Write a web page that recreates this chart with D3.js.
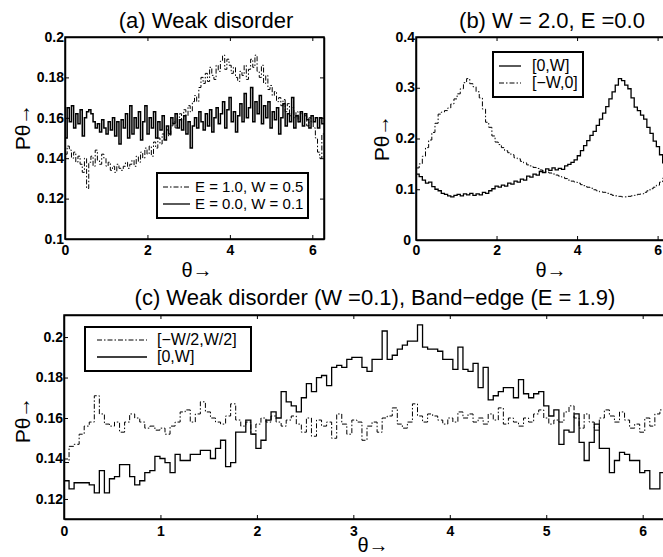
<!DOCTYPE html>
<html>
<head>
<meta charset="utf-8">
<script src="https://cdn.jsdelivr.net/npm/d3@7"></script>
<style>
  body { margin: 0; background: #fff; }
  svg { display: block; font-family: "Liberation Sans", Arial, sans-serif; }
  .tick text { font-size: 14px; font-weight: bold; fill: #000; }
</style>
</head>
<body>
<script>
const TWO_PI = 2 * Math.PI

// panel (a): 120 bins over [0, 2pi]
let aDashDot = [
  0.142, 0.146, 0.144, 0.140, 0.143, 0.138, 0.141, 0.137, 0.133, 0.140,
  0.125, 0.138, 0.141, 0.136, 0.144, 0.139, 0.137, 0.142, 0.140, 0.136,
  0.138, 0.134, 0.136, 0.133, 0.137, 0.135, 0.134, 0.136, 0.138, 0.135,
  0.137, 0.139, 0.136, 0.141, 0.138, 0.143, 0.140, 0.145, 0.142, 0.146,
  0.141, 0.148, 0.145, 0.150, 0.147, 0.152, 0.149, 0.154, 0.151, 0.156,
  0.158, 0.155, 0.160, 0.162, 0.159, 0.164, 0.161, 0.166, 0.163, 0.168,
  0.171, 0.168, 0.175, 0.180, 0.177, 0.182, 0.178, 0.185, 0.181, 0.179,
  0.186, 0.183, 0.188, 0.191, 0.184, 0.189, 0.186, 0.182, 0.185, 0.180,
  0.178, 0.183, 0.181, 0.186, 0.179, 0.184, 0.189, 0.185, 0.191, 0.183,
  0.180, 0.186, 0.177, 0.181, 0.174, 0.176, 0.171, 0.173, 0.168, 0.170,
  0.166, 0.169, 0.163, 0.167, 0.161, 0.165, 0.160, 0.163, 0.158, 0.162,
  0.159, 0.161, 0.156, 0.160, 0.158, 0.155, 0.150, 0.143, 0.140, 0.152
]
let aSolid = [
  0.150, 0.165, 0.158, 0.166, 0.155, 0.162, 0.157, 0.164, 0.151, 0.160,
  0.163, 0.164, 0.162, 0.158, 0.155, 0.157, 0.153, 0.159, 0.155, 0.152,
  0.158, 0.154, 0.160, 0.151, 0.158, 0.147, 0.159, 0.155, 0.162, 0.150,
  0.166, 0.152, 0.160, 0.155, 0.163, 0.149, 0.158, 0.166, 0.152, 0.160,
  0.155, 0.163, 0.150, 0.158, 0.154, 0.161, 0.149, 0.156, 0.152, 0.160,
  0.157, 0.162, 0.155, 0.159, 0.154, 0.161, 0.152, 0.158, 0.145, 0.156,
  0.160, 0.155, 0.163, 0.158, 0.154, 0.162, 0.156, 0.164, 0.153, 0.160,
  0.165, 0.157, 0.162, 0.168, 0.155, 0.164, 0.170, 0.158, 0.163, 0.153,
  0.161, 0.167, 0.158, 0.172, 0.160, 0.165, 0.175, 0.158, 0.168, 0.162,
  0.171, 0.157, 0.166, 0.160, 0.168, 0.155, 0.163, 0.159, 0.165, 0.152,
  0.160, 0.167, 0.156, 0.162, 0.158, 0.170, 0.155, 0.161, 0.158, 0.163,
  0.156, 0.162, 0.159, 0.155, 0.161, 0.158, 0.160, 0.155, 0.160, 0.157
]

// panel (b): 80 bins over [0, 2pi]
let bSolid = [
  0.130, 0.125, 0.118, 0.112, 0.114, 0.105, 0.100, 0.097, 0.092, 0.090,
  0.087, 0.085, 0.088, 0.090, 0.087, 0.091, 0.089, 0.092, 0.088, 0.091,
  0.089, 0.094, 0.092, 0.097, 0.101, 0.106, 0.104, 0.108, 0.106, 0.112,
  0.110, 0.116, 0.114, 0.120, 0.118, 0.126, 0.124, 0.130, 0.128, 0.135,
  0.133, 0.140, 0.137, 0.142, 0.138, 0.141, 0.139, 0.146, 0.149, 0.153,
  0.158, 0.166, 0.176, 0.186, 0.196, 0.206, 0.214, 0.226, 0.238, 0.250,
  0.263, 0.278, 0.292, 0.305, 0.318, 0.314, 0.305, 0.298, 0.280, 0.262,
  0.255, 0.246, 0.238, 0.222, 0.210, 0.195, 0.184, 0.168, 0.152, 0.138
]
let bDashDot = [
  0.142, 0.150, 0.165, 0.182, 0.197, 0.212, 0.230, 0.248, 0.252, 0.255,
  0.260, 0.268, 0.278, 0.288, 0.298, 0.310, 0.318, 0.308, 0.302, 0.292,
  0.280, 0.258, 0.232, 0.222, 0.205, 0.193, 0.188, 0.182, 0.176, 0.172,
  0.168, 0.162, 0.160, 0.155, 0.152, 0.148, 0.146, 0.143, 0.141, 0.138,
  0.136, 0.134, 0.132, 0.130, 0.128, 0.126, 0.124, 0.121, 0.118, 0.116,
  0.114, 0.112, 0.109, 0.107, 0.104, 0.102, 0.099, 0.097, 0.095, 0.094,
  0.092, 0.090, 0.088, 0.087, 0.086, 0.085, 0.085, 0.086, 0.087, 0.088,
  0.090, 0.091, 0.094, 0.097, 0.101, 0.104, 0.108, 0.114, 0.122, 0.132
]

// panel (c): 120 bins over [0, 2pi]
let cDashDot = [
  0.138, 0.146, 0.147, 0.152, 0.156, 0.158, 0.171, 0.162, 0.157, 0.156,
  0.158, 0.153, 0.158, 0.162, 0.160, 0.158, 0.155, 0.156, 0.154, 0.155,
  0.152, 0.156, 0.158, 0.163, 0.164, 0.158, 0.162, 0.168, 0.163, 0.160,
  0.158, 0.157, 0.161, 0.167, 0.159, 0.156, 0.158, 0.152, 0.157, 0.160,
  0.158, 0.161, 0.158, 0.156, 0.159, 0.161, 0.157, 0.153, 0.160, 0.151,
  0.159, 0.156, 0.158, 0.150, 0.162, 0.157, 0.152, 0.159, 0.158, 0.149,
  0.156, 0.158, 0.153, 0.160, 0.161, 0.165, 0.157, 0.155, 0.158, 0.167,
  0.161, 0.158, 0.162, 0.161, 0.159, 0.157, 0.160, 0.158, 0.163, 0.160,
  0.162, 0.158, 0.160, 0.157, 0.162, 0.159, 0.165, 0.157, 0.160, 0.158,
  0.156, 0.160, 0.158, 0.162, 0.164, 0.160, 0.157, 0.159, 0.158, 0.163,
  0.166, 0.160, 0.155, 0.162, 0.158, 0.154, 0.160, 0.164, 0.161, 0.158,
  0.163, 0.159, 0.155, 0.157, 0.153, 0.160, 0.156, 0.162, 0.164, 0.160
]
let cSolid = [
  0.129, 0.125, 0.128, 0.128, 0.128, 0.127, 0.123, 0.134, 0.123, 0.130,
  0.131, 0.137, 0.137, 0.131, 0.127, 0.129, 0.133, 0.134, 0.141, 0.140,
  0.138, 0.133, 0.142, 0.139, 0.139, 0.142, 0.142, 0.144, 0.144, 0.140,
  0.145, 0.149, 0.136, 0.138, 0.153, 0.153, 0.159, 0.152, 0.145, 0.149,
  0.159, 0.163, 0.160, 0.173, 0.168, 0.166, 0.163, 0.170, 0.177, 0.173,
  0.180, 0.181, 0.176, 0.185, 0.186, 0.185, 0.189, 0.190, 0.190, 0.185,
  0.183, 0.189, 0.189, 0.203, 0.189, 0.191, 0.194, 0.196, 0.198, 0.198,
  0.206, 0.195, 0.194, 0.194, 0.193, 0.189, 0.189, 0.184, 0.195, 0.184,
  0.183, 0.187, 0.175, 0.185, 0.169, 0.171, 0.173, 0.175, 0.175, 0.170,
  0.179, 0.172, 0.170, 0.172, 0.173, 0.166, 0.161, 0.164, 0.147, 0.154,
  0.153, 0.162, 0.148, 0.139, 0.148, 0.157, 0.145, 0.145, 0.133, 0.139,
  0.143, 0.142, 0.139, 0.139, 0.133, 0.134, 0.125, 0.125, 0.133, 0.131
]

let aYTicks = [0.1, 0.12, 0.14, 0.16, 0.18, 0.2]
let bYTicks = [0, 0.1, 0.2, 0.3, 0.4]
let cYTicks = [0.12, 0.14, 0.16, 0.18, 0.2]
let abXTicks = [0, 2, 4, 6]
let cXTicks = [0, 1, 2, 3, 4, 5, 6]

let width = 663
let height = 557
let dashDot = '5,2,1.5,2'

let svg = d3.select('body').append('svg')
  .attr('width', width)
  .attr('height', height)

// turns bin values into step-histogram points
function steps(vals) {
  let w = TWO_PI / vals.length
  let pts = vals.map((v, i) => [i * w, v])
  pts.push([TWO_PI, vals[vals.length - 1]])
  return pts
}

function panel(opt) {
  let x = d3.scaleLinear().domain([0, TWO_PI]).range(opt.xr)
  let y = d3.scaleLinear().domain(opt.yd).range(opt.yr)
  let g = svg.append('g')

  let clipId = 'clip' + opt.id
  g.append('clipPath').attr('id', clipId)
    .append('rect')
    .attr('x', opt.xr[0]).attr('y', opt.yr[1])
    .attr('width', opt.xr[1] - opt.xr[0]).attr('height', opt.yr[0] - opt.yr[1])

  let line = d3.line()
    .x(d => x(d[0]))
    .y(d => y(d[1]))
    .curve(d3.curveStepAfter)

  opt.series.forEach(s => {
    g.append('path')
      .attr('clip-path', `url(#${clipId})`)
      .attr('d', line(steps(s.values)))
      .attr('fill', 'none')
      .attr('stroke', '#000')
      .attr('stroke-width', s.dash ? 1 : opt.solidW)
      .attr('stroke-dasharray', s.dash ? dashDot : null)
  })

  // frame
  g.append('rect')
    .attr('x', opt.xr[0]).attr('y', opt.yr[1])
    .attr('width', opt.xr[1] - opt.xr[0]).attr('height', opt.yr[0] - opt.yr[1])
    .attr('fill', 'none').attr('stroke', '#000').attr('stroke-width', 1.5)

  g.append('g')
    .attr('transform', `translate(0,${opt.yr[0]})`)
    .call(d3.axisBottom(x).tickValues(opt.xTicks).tickFormat(d3.format('d'))
      .tickSizeInner(-4).tickSizeOuter(0).tickPadding(opt.xPad))
  g.append('g')
    .attr('transform', `translate(0,${opt.yr[1]})`)
    .call(d3.axisTop(x).tickValues(opt.xTicks).tickFormat('')
      .tickSizeInner(-4).tickSizeOuter(0))
  let yAxis = g.append('g')
    .attr('transform', `translate(${opt.xr[0]},0)`)
    .call(d3.axisLeft(y).tickValues(opt.yTicks).tickFormat(d => String(+d.toFixed(2)))
      .tickSizeInner(-4).tickSizeOuter(0).tickPadding(1))
  g.append('g')
    .attr('transform', `translate(${opt.xr[1]},0)`)
    .call(d3.axisRight(y).tickValues(opt.yTicks).tickFormat('')
      .tickSizeInner(-4).tickSizeOuter(0))
  g.selectAll('.domain').attr('stroke', '#000').attr('stroke-width', 1.5)
  g.selectAll('.tick line').attr('stroke', '#000')
  yAxis.selectAll('text').attr('dy', '0.3em')
  // a zero y label sits in the corner next to the x-axis zero
  yAxis.selectAll('.tick text').filter(d => d === 0).attr('x', -5)

  // title and axis labels
  g.append('text')
    .attr('x', opt.title[1]).attr('y', opt.title[2])
    .attr('text-anchor', 'middle')
    .attr('font-size', opt.title[3])
    .text(opt.title[0])
  g.append('text')
    .attr('x', opt.xlab[0]).attr('y', opt.xlab[1])
    .attr('text-anchor', 'middle')
    .attr('font-size', 20)
    .text('θ→')
  g.append('text')
    .attr('transform', `translate(${opt.ylab[0]},${opt.ylab[1]}) rotate(-90)`)
    .attr('text-anchor', 'middle')
    .attr('font-size', 21)
    .text('Pθ→')

  // legend
  let L = opt.legend
  g.append('rect')
    .attr('x', L.box[0]).attr('y', L.box[1])
    .attr('width', L.box[2]).attr('height', L.box[3])
    .attr('fill', '#fff').attr('stroke', '#000').attr('stroke-width', 2)
  L.rows.forEach((r, i) => {
    let ry = L.rowY[i]
    g.append('line')
      .attr('x1', L.lineX[0]).attr('x2', L.lineX[1])
      .attr('y1', ry).attr('y2', ry)
      .attr('stroke', '#000').attr('stroke-width', r.dash ? 1 : 1.3)
      .attr('stroke-dasharray', r.dash ? dashDot : null)
    g.append('text')
      .attr('x', L.textX).attr('y', ry + 5)
      .attr('font-size', L.fs)
      .text(r.label)
  })
}

panel({
  id: 'a',
  xr: [65, 324], yr: [239, 37], yd: [0.1, 0.2],
  xTicks: abXTicks, yTicks: aYTicks, xPad: 6, solidW: 1.5,
  series: [{ values: aDashDot, dash: true }, { values: aSolid }],
  title: ['(a) Weak disorder', 206, 28, 22],
  xlab: [197, 277], ylab: [30, 127],
  legend: {
    box: [157, 173, 151, 45], lineX: [163, 190], textX: 195, fs: 15,
    rowY: [187, 204],
    rows: [{ label: 'E = 1.0, W = 0.5', dash: true }, { label: 'E = 0.0, W = 0.1' }]
  }
})

panel({
  id: 'b',
  xr: [416, 669], yr: [240, 37], yd: [0, 0.4],
  xTicks: abXTicks, yTicks: bYTicks, xPad: 5, solidW: 1.3,
  series: [{ values: bDashDot, dash: true }, { values: bSolid }],
  title: ['(b) W = 2.0, E =0.0', 552, 28, 22],
  xlab: [551, 277], ylab: [389, 138],
  legend: {
    box: [493, 52, 90, 45], lineX: [499, 521], textX: 532, fs: 16,
    rowY: [66, 83],
    rows: [{ label: '[0,W]' }, { label: '[−W,0]', dash: true }]
  }
})

panel({
  id: 'c',
  xr: [64, 670], yr: [519, 315], yd: [0.1101, 0.2109],
  xTicks: cXTicks, yTicks: cYTicks, xPad: 7, solidW: 1.3,
  series: [{ values: cDashDot, dash: true }, { values: cSolid }],
  title: ['(c) Weak disorder (W =0.1), Band−edge (E = 1.9)', 375, 305, 22],
  xlab: [373, 552], ylab: [30, 420],
  legend: {
    box: [85, 327, 166, 44], lineX: [97, 147], textX: 157, fs: 16,
    rowY: [340, 357],
    rows: [{ label: '[−W/2,W/2]', dash: true }, { label: '[0,W]' }]
  }
})
</script>
</body>
</html>
